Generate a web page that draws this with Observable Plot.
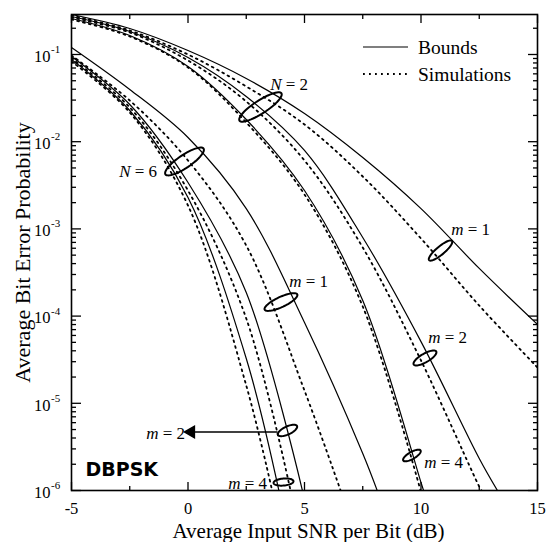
<!DOCTYPE html>
<html><head><meta charset="utf-8">
<script src="https://cdn.jsdelivr.net/npm/d3@7"></script>
<script src="https://cdn.jsdelivr.net/npm/@observablehq/plot@0.6"></script>
<style>
html,body{margin:0;padding:0;background:#fff;}
#chart{width:550px;height:542px;}
#chart svg text{font-family:"Liberation Serif","DejaVu Serif",serif;}
#chart svg g.sansbold text{font-family:"DejaVu Sans",sans-serif;font-weight:bold;}
</style></head><body><div id="chart"></div>
<script>
// ---------- data ----------
// N = 2
const n2m1BoundSnr = [-5, -2.5, 0, 2.5, 5, 7.5, 10, 12.5, 15];
const n2m1BoundBer = [0.2875, 0.1987, 0.1111, 0.0531, 0.02106, 6.59e-3, 1.71e-3, 3.52e-4, 8.01e-5];
const n2m1SimSnr   = [-5, -2.5, 0, 2.5, 5, 7.5, 10, 12.5, 15];
const n2m1SimBer   = [0.2801, 0.1885, 0.1, 0.0430, 0.01575, 3.99e-3, 7.76e-4, 1.32e-4, 2.57e-5];
const n2m2BoundSnr = [-5, -2.5, 0, 2.5, 5, 7.5, 10, 12.5, 13.28];
const n2m2BoundBer = [0.2727, 0.1835, 0.0924, 0.0330, 7.93e-3, 7.97e-4, 5.1e-5, 2.33e-6, 1e-6];
const n2m2SimSnr   = [-5, -2.5, 0, 2.5, 5, 7.5, 10, 12.5, 12.6];
const n2m2SimBer   = [0.2656, 0.1788, 0.0853, 0.0289, 6.09e-3, 6.12e-4, 3.1e-5, 1.11e-6, 1e-6];
const n2m4BoundSnr = [-5, -2.5, 0, 2.5, 5, 7.5, 10, 10.11];
const n2m4BoundBer = [0.2587, 0.1651, 0.0729, 0.01797, 2.756e-3, 1.51e-4, 1.235e-6, 1e-6];
const n2m4SimSnr   = [-5, -2.5, 0, 2.5, 5, 7.5, 9.98];
const n2m4SimBer   = [0.2520, 0.1609, 0.0710, 0.01660, 2.48e-3, 1.289e-4, 1e-6];
// N = 6
const n6m1BoundSnr = [-5, -2.5, 0, 2.5, 5, 7.5, 8.12];
const n6m1BoundBer = [0.1203, 0.0397, 0.01117, 1.71e-3, 8.44e-5, 2.66e-6, 1e-6];
const n6m1SimSnr   = [-5, -2.5, 0, 2.5, 5, 6.55];
const n6m1SimBer   = [0.0974, 0.0297, 6.09e-3, 6.45e-4, 1.40e-5, 1e-6];
const n6m2BoundSnr = [-5, -2.5, 0, 2.5, 4.91];
const n6m2BoundBer = [0.0949, 0.0267, 3.40e-3, 1.865e-4, 1e-6];
const n6m2SimSnr   = [-5, -2.5, 0, 2.5, 4.40];
const n6m2SimBer   = [0.0900, 0.0247, 2.756e-3, 9.39e-5, 1e-6];
const n6m4BoundSnr = [-5, -2.5, 0, 2.5, 3.90];
const n6m4BoundBer = [0.0877, 0.0228, 2.29e-3, 3.26e-5, 1e-6];
const n6m4SimSnr   = [-5, -2.5, 0, 2.5, 3.61];
const n6m4SimBer   = [0.0831, 0.02162, 1.855e-3, 1.60e-5, 1e-6];

// axis ticks
const xMajor = [-5, 0, 5, 10, 15];
const xMinor = [-2.5, 2.5, 7.5, 12.5];
const yDecades = [1e-1, 1e-2, 1e-3, 1e-4, 1e-5, 1e-6];
const yExponents = ["-1", "-2", "-3", "-4", "-5", "-6"];

// annotations (ellipses, labels, arrow) anchored in data units
const ellipseSnr = [3.11, -0.15, 10.84, 3.99, 10.17, 4.27, 9.61, 4.10];
const ellipseBer = [0.0250, 5.93e-3, 5.65e-4, 1.45e-4, 3.31e-5, 4.88e-6, 2.52e-6, 1.25e-6];
const labelVar = ["N", "N", "m", "m", "m", "m", "m", "m"];
const labelVal = ["2", "6", "1", "1", "2", "4", "2", "4"];
const labelSnr = [4.013, -2.468, 11.824, 4.871, 10.837, 10.665, -1.266, 2.253];
const labelBer = [0.0453, 4.55e-3, 9.85e-4, 2.49e-4, 5.68e-5, 2.10e-6, 4.51e-6, 1.20e-6];
const arrowSnr = [3.84, 0.22];
const arrowBer = 4.69e-6;
const legendNames = ["Bounds", "Simulations"];
const panelName = "DBPSK";
const xTitle = "Average Input SNR per Bit (dB)";
const yTitle = "Average Bit Error Probability";

// ---------- build ----------
const curves = [
  ["Bounds", n2m1BoundSnr, n2m1BoundBer], ["Simulations", n2m1SimSnr, n2m1SimBer],
  ["Bounds", n2m2BoundSnr, n2m2BoundBer], ["Simulations", n2m2SimSnr, n2m2SimBer],
  ["Bounds", n2m4BoundSnr, n2m4BoundBer], ["Simulations", n2m4SimSnr, n2m4SimBer],
  ["Bounds", n6m1BoundSnr, n6m1BoundBer], ["Simulations", n6m1SimSnr, n6m1SimBer],
  ["Bounds", n6m2BoundSnr, n6m2BoundBer], ["Simulations", n6m2SimSnr, n6m2SimBer],
  ["Bounds", n6m4BoundSnr, n6m4BoundBer], ["Simulations", n6m4SimSnr, n6m4SimBer]
].map(([kind, xs, ys]) => ({kind, pts: xs.map((x, i) => ({snr: x, ber: ys[i]}))}));

const yMinor = [];
for (let e = -6; e <= -1; e++) for (let k = 2; k <= 9; k++) {
  const v = k * Math.pow(10, e);
  if (v < 0.2875) yMinor.push(v);
}

const ellipseShape = [[25, 0.26, -33], [23, 0.28, -34], [15, 0.27, -40], [18, 0.28, -25],
                      [13, 0.33, -30], [10.5, 0.38, -25], [10, 0.35, -30], [10, 0.35, -5]];
function ellipseSymbol(ratio) {
  return {draw(ctx, size) {
    const a = Math.sqrt(size / Math.PI), b = a * ratio, n = 60;
    for (let i = 0; i <= n; i++) {
      const t = 2 * Math.PI * i / n, px = a * Math.cos(t), py = b * Math.sin(t);
      if (i === 0) ctx.moveTo(px, py); else ctx.lineTo(px, py);
    }
    ctx.closePath();
  }};
}

const serif = "Liberation Serif, DejaVu Serif, serif";
const marks = [];
for (const c of curves) {
  const bound = c.kind === "Bounds";
  marks.push(Plot.line(c.pts, {
    x: "snr", y: "ber", curve: "catmull-rom", clip: true,
    stroke: "black", strokeWidth: bound ? 1.2 : 1.8,
    strokeDasharray: bound ? null : "1.8,4.2"
  }));
}
ellipseSnr.forEach((s, i) => {
  const [r, ratio, ang] = ellipseShape[i];
  marks.push(Plot.dot([{snr: s, ber: ellipseBer[i]}], {
    x: "snr", y: "ber", r, symbol: ellipseSymbol(ratio), rotate: ang,
    stroke: "black", strokeWidth: 2, fill: "none"
  }));
});
// arrow for the left "m = 2" label
marks.push(Plot.link([{x1: arrowSnr[0], x2: arrowSnr[1], y: arrowBer}], {
  x1: "x1", x2: "x2", y1: "y", y2: "y", stroke: "black", strokeWidth: 1.6
}));
marks.push(Plot.dot([{x: arrowSnr[1], y: arrowBer}], {
  x: "x", y: "y", symbol: "triangle", r: 4.2, rotate: -90, fill: "black", stroke: "black", dx: -2
}));
// labels: italic variable + upright value
const labels = labelVar.map((v, i) => ({v, val: labelVal[i], snr: labelSnr[i], ber: labelBer[i]}));
marks.push(Plot.text(labels, {x: "snr", y: "ber", text: "v", textAnchor: "end", lineAnchor: "middle", fontStyle: "italic", fontSize: 17}));
marks.push(Plot.text(labels, {x: "snr", y: "ber", text: d => "\u00A0=\u00A0" + d.val, textAnchor: "start", lineAnchor: "middle", fontSize: 17}));
// panel name
marks.push(Plot.text([panelName], {frameAnchor: "bottom-left", dx: 14, dy: -21, textAnchor: "start", lineAnchor: "middle",
  fontSize: 19, fontWeight: "bold", className: "sansbold"}));
// axes ticks (inward, all four sides)
for (const anchor of ["bottom", "top"]) {
  marks.push(Plot.axisX(xMajor, {anchor, tickSize: -8, tickFormat: () => "", label: null, strokeWidth: 1.3}));
  marks.push(Plot.axisX(xMinor, {anchor, tickSize: -4, tickFormat: () => "", label: null, strokeWidth: 1.3}));
}
for (const anchor of ["left", "right"]) {
  marks.push(Plot.axisY(yDecades, {anchor, tickSize: -10, tickFormat: () => "", label: null, strokeWidth: 1.3}));
  marks.push(Plot.axisY(yMinor, {anchor, tickSize: -5, tickFormat: () => "", label: null, strokeWidth: 1.3}));
}
// tick labels
marks.push(Plot.text(xMajor, {x: d => d, frameAnchor: "bottom", dy: 18.5, lineAnchor: "middle", textAnchor: "middle", text: d => String(d), fontSize: 16.5}));
marks.push(Plot.text(yDecades, {y: d => d, frameAnchor: "left", dx: -21, dy: 2, lineAnchor: "middle", text: () => "10", textAnchor: "end", fontSize: 16.5}));
marks.push(Plot.text(yDecades, {y: d => d, frameAnchor: "left", dx: -20.5, dy: -5, lineAnchor: "middle", text: (d, i) => yExponents[i], textAnchor: "start", fontSize: 11}));
// titles
marks.push(Plot.text([xTitle], {frameAnchor: "bottom", dy: 40.5, dx: 4, lineAnchor: "middle", textAnchor: "middle", fontSize: 21}));
marks.push(Plot.text([yTitle], {frameAnchor: "left", dx: -49, rotate: -90, lineAnchor: "middle", textAnchor: "middle", fontSize: 22}));
marks.push(Plot.frame({stroke: "black", strokeWidth: 1.6}));

const plot = Plot.plot({
  width: 550, height: 542,
  marginLeft: 71, marginRight: 13, marginTop: 14, marginBottom: 52,
  x: {domain: [-5, 15]},
  y: {type: "log", domain: [1e-6, 0.2875]},
  style: {fontFamily: serif, fontSize: "17px", color: "black", background: "white", overflow: "visible"},
  marks
});
document.getElementById("chart").appendChild(plot);

// legend (inside the frame, upper right)
const svg = d3.select(plot);
const lg = svg.append("g").attr("font-size", 19.5).attr("text-anchor", "start");
legendNames.forEach((name, i) => {
  const y = 47 + i * 27;
  lg.append("line").attr("x1", 363).attr("x2", 408).attr("y1", y).attr("y2", y)
    .attr("stroke", "black").attr("stroke-width", i ? 1.8 : 1.2)
    .attr("stroke-dasharray", i ? "1.8,4.2" : null);
  lg.append("text").attr("x", 418).attr("y", y).attr("dy", "0.35em").attr("text-anchor", "start").text(name);
});
</script></body></html>
